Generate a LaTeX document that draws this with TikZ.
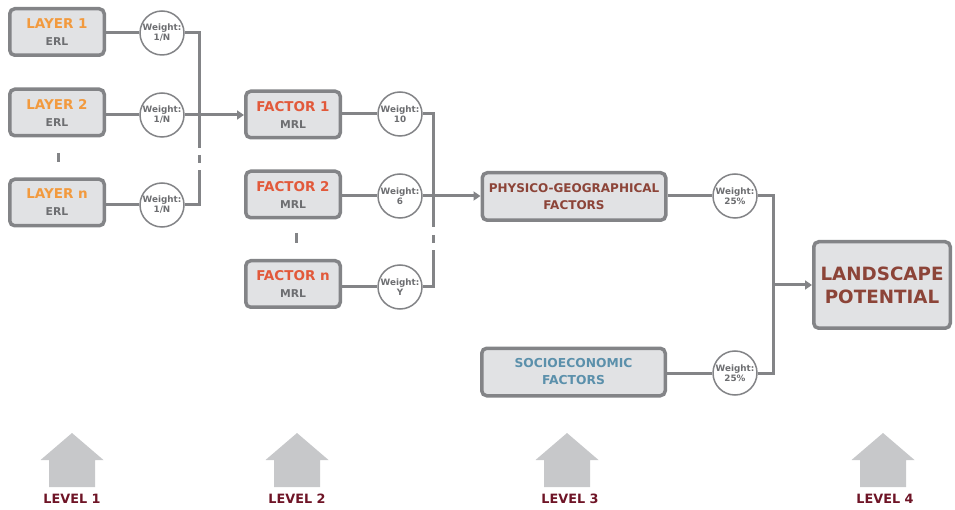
\documentclass[tikz,border=0pt]{standalone}
\usepackage{fontspec}
\setmainfont{DejaVu Sans}
\usetikzlibrary{arrows.meta}
\definecolor{boxfill}{HTML}{E1E2E4}
\definecolor{bordergray}{HTML}{838487}
\definecolor{linegray}{HTML}{838487}
\definecolor{cOrange}{HTML}{F29A3E}
\definecolor{cFactor}{HTML}{E2593A}
\definecolor{cBrown}{HTML}{8C4438}
\definecolor{cBlue}{HTML}{5B90AB}
\definecolor{cMaroon}{HTML}{6E1426}
\definecolor{housegray}{HTML}{C7C8CA}
\definecolor{wtext}{HTML}{6D6E71}
\begin{document}
\begin{tikzpicture}[x=1pt,y=-1pt,
  box/.style={draw=bordergray, line width=3.5pt, rounded corners=5pt, fill=boxfill, align=center, inner sep=0pt, font=\bfseries},
  smallbox/.style={box, minimum width=94.5pt, minimum height=46.5pt},
  widebox/.style={box, minimum width=183.5pt, minimum height=47.5pt},
  bigbox/.style={box, minimum width=136.5pt, minimum height=86.5pt},
  wt/.style={circle, draw=bordergray, line width=1.5pt, fill=white, minimum size=44pt, inner sep=0pt, align=center, text=wtext, font=\bfseries\fontsize{8.8}{10}\selectfont},
  conn/.style={draw=linegray, line width=3pt},
  arr/.style={conn, -{Triangle[length=7pt,width=9pt]}},
  lvl/.style={text=cMaroon, font=\bfseries\fontsize{12.8}{14}\selectfont},
]
\useasboundingbox (0,0) rectangle (955,510);

% Level 1 layers
\node[smallbox] (l1) at (57,32) {\textcolor{cOrange}{\fontsize{13.5}{15}\selectfont LAYER 1}\\[5pt]\textcolor{wtext}{\fontsize{10.8}{12}\selectfont ERL}};
\node[smallbox] (l2) at (57,112.5) {\textcolor{cOrange}{\fontsize{13.5}{15}\selectfont LAYER 2}\\[5pt]\textcolor{wtext}{\fontsize{10.8}{12}\selectfont ERL}};
\node[smallbox] (ln) at (57,202.5) {\textcolor{cOrange}{\fontsize{13.5}{15}\selectfont LAYER n}\\[5pt]\textcolor{wtext}{\fontsize{10.8}{12}\selectfont ERL}};

\node[wt] (w1) at (162,33) {Weight:\\1/N};
\node[wt] (w2) at (162,115) {Weight:\\1/N};
\node[wt] (w3) at (162,205) {Weight:\\1/N};

\draw[conn] (l1.east |- w1) -- (w1.west);
\draw[conn] (l2.east |- w2) -- (w2.west);
\draw[conn] (ln.east |- w3) -- (w3.west);

\coordinate (j1a) at (199,148);
\coordinate (j1b) at (199,155);
\coordinate (j1c) at (199,163);
\coordinate (j1d) at (199,170);
\draw[conn] (w1.east) -| (j1a);
\draw[conn] (j1b) -- (j1c);
\draw[conn] (w3.east) -| (j1d);

\coordinate (d1a) at (58,153);
\coordinate (d1b) at (58,162);
\draw[conn] (d1a) -- (d1b);

% Level 2 factors
\node[smallbox] (f1) at (293,114.5) {\textcolor{cFactor}{\fontsize{13.5}{15}\selectfont FACTOR 1}\\[5pt]\textcolor{wtext}{\fontsize{10.8}{12}\selectfont MRL}};
\node[smallbox] (f2) at (293,194.5) {\textcolor{cFactor}{\fontsize{13.5}{15}\selectfont FACTOR 2}\\[5pt]\textcolor{wtext}{\fontsize{10.8}{12}\selectfont MRL}};
\node[smallbox] (fn) at (293,284) {\textcolor{cFactor}{\fontsize{13.5}{15}\selectfont FACTOR n}\\[5pt]\textcolor{wtext}{\fontsize{10.8}{12}\selectfont MRL}};

\draw[arr] (w2.east) -- (f1.west |- w2);

\node[wt] (v1) at (400,114) {Weight:\\10};
\node[wt] (v2) at (400,196) {Weight:\\6};
\node[wt] (v3) at (400,287) {Weight:\\Y};

\draw[conn] (f1.east |- v1) -- (v1.west);
\draw[conn] (f2.east |- v2) -- (v2.west);
\draw[conn] (fn.east |- v3) -- (v3.west);

\coordinate (j2a) at (433,227);
\coordinate (j2b) at (433,235);
\coordinate (j2c) at (433,243);
\coordinate (j2d) at (433,250);
\draw[conn] (v1.east) -| (j2a);
\draw[conn] (j2b) -- (j2c);
\draw[conn] (v3.east) -| (j2d);

\coordinate (d2a) at (296,233);
\coordinate (d2b) at (296,243);
\draw[conn] (d2a) -- (d2b);

% Level 3
\node[widebox] (pg) at (574,196.5) {\textcolor{cBrown}{\fontsize{12}{13}\selectfont PHYSICO-GEOGRAPHICAL}\\[5pt]\textcolor{cBrown}{\fontsize{12}{13}\selectfont FACTORS}};
\node[widebox] (se) at (573.5,372) {\textcolor{cBlue}{\fontsize{12.3}{13}\selectfont SOCIOECONOMIC}\\[5pt]\textcolor{cBlue}{\fontsize{12.3}{13}\selectfont FACTORS}};

\draw[arr] (v2.east) -- (pg.west |- v2);

\node[wt] (u1) at (735,196) {Weight:\\25\%};
\node[wt] (u2) at (735,373) {Weight:\\25\%};

\draw[conn] (pg.east |- u1) -- (u1.west);
\draw[conn] (se.east |- u2) -- (u2.west);

\coordinate (j3) at (773,285);
\draw[conn] (u1.east) -| (j3);
\draw[conn] (u2.east) -| (j3);

% Level 4
\node[bigbox] (lp) at (882,285) {\textcolor{cBrown}{\fontsize{18.3}{20}\selectfont LANDSCAPE}\\[8pt]\textcolor{cBrown}{\fontsize{18.3}{20}\selectfont POTENTIAL}};
\draw[arr] (j3) -- (lp.west |- j3);

% Houses
\foreach \cx in {72,297,567,883} {
  \fill[housegray] (\cx-31.5,460) -- (\cx,433) -- (\cx+31.5,460) -- (\cx+23,460) -- (\cx+23,487) -- (\cx-23,487) -- (\cx-23,460) -- cycle;
}

\node[lvl] (lv1) at (72,499) {LEVEL 1};
\node[lvl] (lv2) at (297,499) {LEVEL 2};
\node[lvl] (lv3) at (570,499) {LEVEL 3};
\node[lvl] (lv4) at (885,499) {LEVEL 4};
\end{tikzpicture}
\end{document}
